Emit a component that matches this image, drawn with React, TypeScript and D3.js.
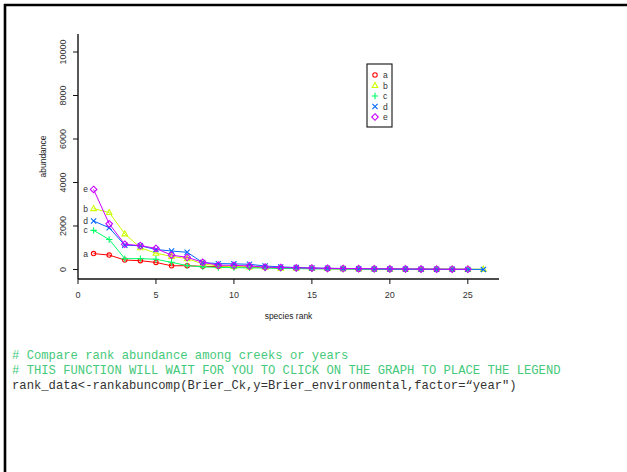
import React from "react";
import * as d3 from "d3";

// rank abundance curves, one per year level
const groups = ["a", "b", "c", "d", "e"];
const colors = ["#FF0000", "#CCFF00", "#00FF66", "#0066FF", "#CC00FF"];
const aVals = [730, 665, 435, 405, 325, 170, 175, 145, 135, 125, 110, 90, 70, 55, 45, 35, 30, 25, 20, 15, 12, 10, 8, 6, 5];
const bVals = [2800, 2620, 1640, 1000, 750, 600, 500, 260, 160, 140, 120, 100, 60, 55, 50, 45, 40, 35, 30, 28, 26, 24, 22, 20, 18, 16];
const cVals = [1800, 1380, 500, 500, 470, 330, 180, 120, 95, 85, 75, 65, 50, 40, 30, 25, 20, 15, 12, 10, 8, 6, 5, 4, 3];
const dVals = [2230, 1920, 1120, 1090, 920, 850, 790, 320, 270, 260, 240, 160, 120, 90, 70, 55, 45, 35, 28, 22, 18, 14, 10, 8, 6, 5];
const eVals = [3680, 2100, 1160, 1100, 970, 660, 560, 330, 200, 190, 165, 110, 90, 75, 65, 55, 45, 40, 35, 30, 25, 20, 15, 12, 10];
const xTicks = [0, 5, 10, 15, 20, 25];
const yTicks = [0, 2000, 4000, 6000, 8000, 10000];
const codeLines = [
  "# Compare rank abundance among creeks or years",
  "# THIS FUNCTION WILL WAIT FOR YOU TO CLICK ON THE GRAPH TO PLACE THE LEGEND",
  "rank_data<-rankabuncomp(Brier_Ck,y=Brier_environmental,factor=\u201Cyear\")",
];

const series = [aVals, bVals, cVals, dVals, eVals];

// R-like pch markers
const marker = (i) => {
  switch (i) {
    case 0: return "M2.2,0A2.2,2.2 0 1,1 -2.2,0A2.2,2.2 0 1,1 2.2,0Z";
    case 1: return "M0,-3L2.8,2L-2.8,2Z";
    case 2: return "M-3.2,0H3.2M0,-3.2V3.2";
    case 3: return "M-2.6,-2.6L2.6,2.6M-2.6,2.6L2.6,-2.6";
    default: return "M0,-3.3L3.3,0L0,3.3L-3.3,0Z";
  }
};

export default function App() {
  const W = 627, H = 472;
  const left = 78, right = 499, top = 34, bottom = 279;
  const x = d3.scaleLinear().domain([0, 27]).range([left, right]);
  const y = d3.scaleLinear().domain([-437, 10828]).range([bottom, top]);
  const line = d3.line().x((d, i) => x(i + 1)).y((d) => y(d));
  const font = "Liberation Sans, Arial, sans-serif";

  return (
    <svg width={W} height={H} style={{ position: "absolute", left: 0, top: 0, background: "#fff" }}>
      {/* page frame */}
      <line x1={5} y1={4} x2={5} y2={H} stroke="#000" strokeWidth={2.6} />
      <line x1={4} y1={5} x2={W} y2={5} stroke="#000" strokeWidth={2.6} />

      {/* axes */}
      <line x1={left} y1={top} x2={left} y2={bottom} stroke="#111" strokeWidth={1.4} />
      <line x1={left} y1={bottom} x2={right} y2={bottom} stroke="#111" strokeWidth={1.4} />
      {xTicks.map((t) => (
        <g key={"x" + t}>
          <line x1={x(t)} x2={x(t)} y1={bottom} y2={bottom + 5} stroke="#111" />
          <text x={x(t)} y={298} fontSize={9} textAnchor="middle" fill="#333" fontFamily={font}>{t}</text>
        </g>
      ))}
      {yTicks.map((t) => (
        <g key={"y" + t}>
          <line x1={left - 5} x2={left} y1={y(t)} y2={y(t)} stroke="#111" />
          <text transform={`translate(66,${y(t)}) rotate(-90)`} fontSize={9} textAnchor="middle" fill="#333" fontFamily={font}>{t}</text>
        </g>
      ))}
      <text x={(left + right) / 2} y={319} fontSize={8.5} textAnchor="middle" fill="#222" fontFamily={font}>species rank</text>
      <text transform={`translate(46,${(top + bottom) / 2}) rotate(-90)`} fontSize={8.5} textAnchor="middle" fill="#222" fontFamily={font}>abundance</text>

      {/* curves */}
      {series.map((vals, i) => (
        <g key={groups[i]}>
          <path d={line(vals)} fill="none" stroke={colors[i]} strokeWidth={1} />
          {vals.map((v, j) => (
            <path key={j} d={marker(i)} transform={`translate(${x(j + 1)},${y(v)})`} fill="none" stroke={colors[i]} strokeWidth={1.1} />
          ))}
          <text x={x(1) - 8} y={y(vals[0]) + 3} fontSize={8.5} textAnchor="middle" fill="#333" fontFamily={font}>{groups[i]}</text>
        </g>
      ))}

      {/* legend */}
      <rect x={367} y={64} width={25} height={63} fill="#fff" stroke="#111" strokeWidth={1.1} />
      {groups.map((g, i) => (
        <g key={"l" + g} transform={`translate(0,${75 + i * 10.5})`}>
          <path d={marker(i)} transform="translate(375,0)" fill="none" stroke={colors[i]} strokeWidth={1.1} />
          <text x={383} y={3} fontSize={8.5} fill="#333" fontFamily={font}>{g}</text>
        </g>
      ))}

      {/* code below the chart */}
      {codeLines.map((c, i) => (
        <text key={"c" + i} x={12} y={359 + i * 14.8} fontSize={12.2} fill={i < 2 ? "#45c97a" : "#333"} fontFamily="Liberation Mono, Courier New, monospace" xmlSpace="preserve">{c}</text>
      ))}
    </svg>
  );
}
